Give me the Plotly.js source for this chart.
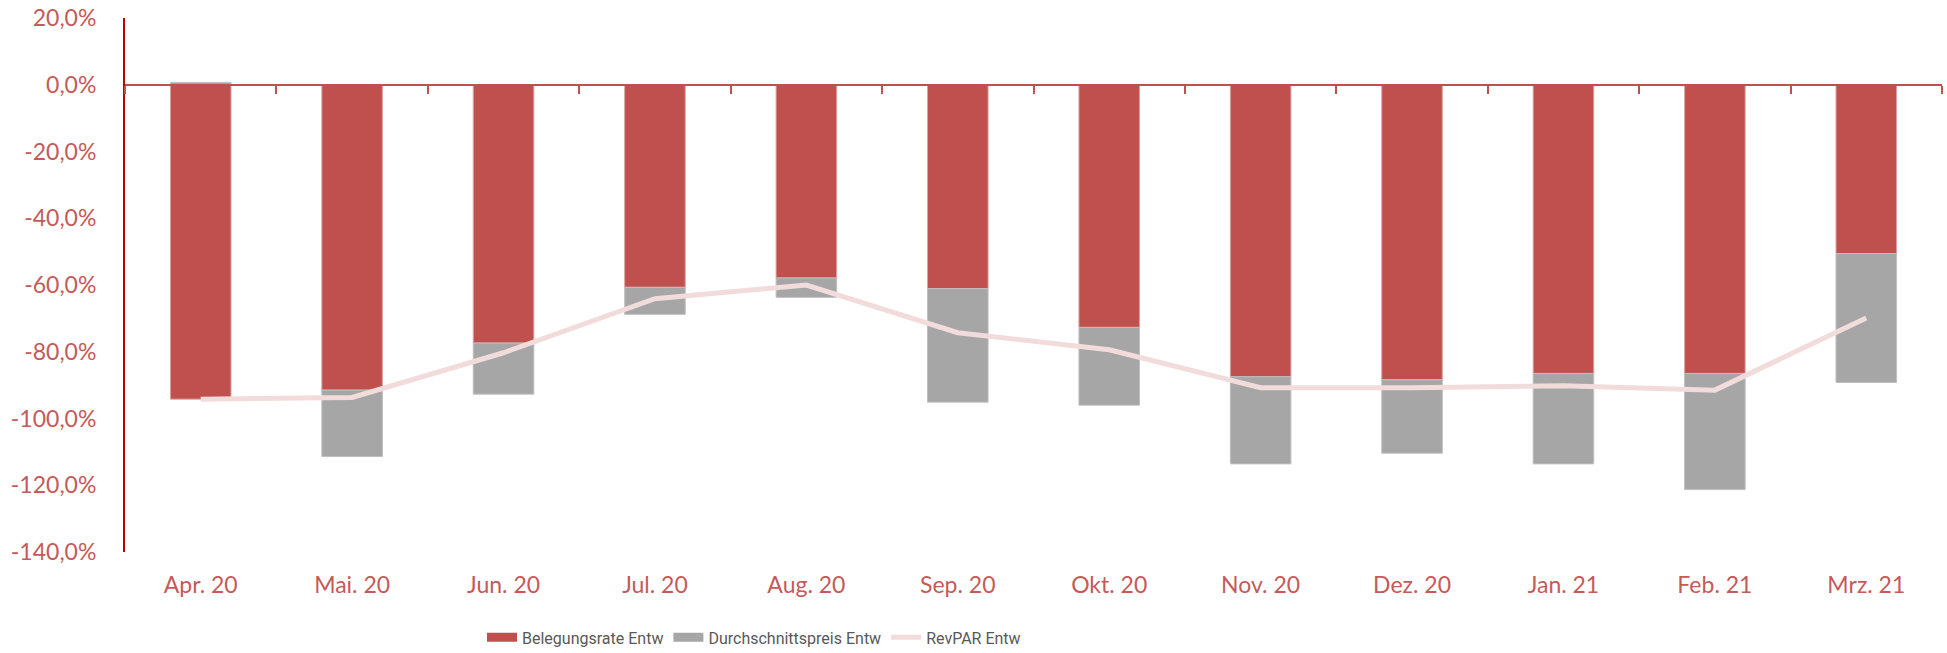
<!DOCTYPE html>
<html>
<head>
<meta charset="utf-8">
<script src="https://cdn.plot.ly/plotly-3.0.1.min.js"></script>
<style>html,body{margin:0;padding:0;background:#fff;}#chart{width:1947px;height:653px;}</style>
</head>
<body>
<div id="chart"></div>
<script>
const months = ["Apr. 20","Mai. 20","Jun. 20","Jul. 20","Aug. 20","Sep. 20","Okt. 20","Nov. 20","Dez. 20","Jan. 21","Feb. 21","Mrz. 21"];
const belegungsrate = [-94.2,-91.5,-77.4,-60.7,-57.9,-61.1,-72.7,-87.5,-88.4,-86.5,-86.5,-50.6];
const durchschnittspreis = [0.7,-19.9,-15.3,-8.1,-5.8,-34.0,-23.3,-26.1,-22.0,-27.1,-34.8,-38.6];
const revpar = [-94.2,-93.7,-80.3,-64.1,-60.0,-74.3,-79.4,-90.8,-90.8,-90.2,-91.5,-69.9];
const yTickVals = [20,0,-20,-40,-60,-80,-100,-120,-140];
const yTickText = ["20,0%","0,0%","-20,0%","-40,0%","-60,0%","-80,0%","-100,0%","-120,0%","-140,0%"];

const labelFont = {family:"Lato, 'Open Sans', sans-serif", size:23, color:"#C55A58"};
const legendFont = {family:"'Liberation Sans Narrow', 'Roboto', sans-serif", size:16, color:"#595959"};

const traces = [
  {type:"bar", name:"Belegungsrate Entw", x:months, y:belegungsrate, showlegend:false,
   marker:{color:"#C0504D", line:{color:"#D9A3A2", width:1}}, hoverinfo:"skip"},
  {type:"bar", name:"Durchschnittspreis Entw", x:months, y:durchschnittspreis, showlegend:false,
   marker:{color:"#A6A6A6", line:{color:"#BFBFBF", width:1}}, hoverinfo:"skip"},
  {type:"scatter", mode:"lines", name:"RevPAR Entw", x:months, y:revpar, showlegend:false,
   line:{color:"#F2DCDB", width:5}, hoverinfo:"skip"},
  // legend entries (drawn on a hidden axis so that only the legend swatches show)
  {type:"scatter", mode:"lines", name:"Belegungsrate Entw", x:months, y:belegungsrate, yaxis:"y2",
   line:{color:"#C0504D", width:9}, hoverinfo:"skip"},
  {type:"scatter", mode:"lines", name:"Durchschnittspreis Entw", x:months, y:durchschnittspreis, yaxis:"y2",
   line:{color:"#A6A6A6", width:9}, hoverinfo:"skip"},
  {type:"scatter", mode:"lines", name:"RevPAR Entw", x:months, y:revpar, yaxis:"y2",
   line:{color:"#F2DCDB", width:5}, hoverinfo:"skip"},
  {type:"scatter", mode:"none", x:months, y:revpar, xaxis:"x2", showlegend:false, hoverinfo:"skip"}
];

const layout = {
  width:1947, height:653,
  margin:{l:125, r:5, t:18, b:101, autoexpand:false},
  paper_bgcolor:"#fff", plot_bgcolor:"#fff",
  barmode:"relative", bargap:0.6,
  showlegend:true,
  legend:{orientation:"h", x:(754-125)/1817, xanchor:"center", y:-0.16, yanchor:"middle",
          font:legendFont, bgcolor:"rgba(0,0,0,0)", borderwidth:0, traceorder:"normal"},
  xaxis:{type:"category", categoryorder:"array", categoryarray:months,
         showline:false, showgrid:false, zeroline:false, ticks:"",
         tickfont:labelFont, ticklabelstandoff:17, range:[-0.5,11.5]},
  xaxis2:{type:"category", categoryorder:"array", categoryarray:months, overlaying:"x",
          anchor:"free", position:0.875, side:"bottom",
          showline:true, linecolor:"#C0504D", linewidth:2,
          ticks:"outside", tickson:"boundaries", ticklen:8, tickwidth:2, tickcolor:"#C0504D",
          showticklabels:false, showgrid:false, zeroline:false, range:[-0.5,11.5]},
  yaxis:{range:[-140,20], tickmode:"array", tickvals:yTickVals, ticktext:yTickText,
         showline:true, linecolor:"#C00000", linewidth:2, ticks:"",
         showgrid:false, zeroline:false, tickfont:labelFont, ticklabelstandoff:22},
  yaxis2:{overlaying:"y", range:[1000,1100], visible:false, showgrid:false, zeroline:false}
};

Plotly.newPlot("chart", traces, layout, {displayModeBar:false, staticPlot:true});
</script>
</body>
</html>
